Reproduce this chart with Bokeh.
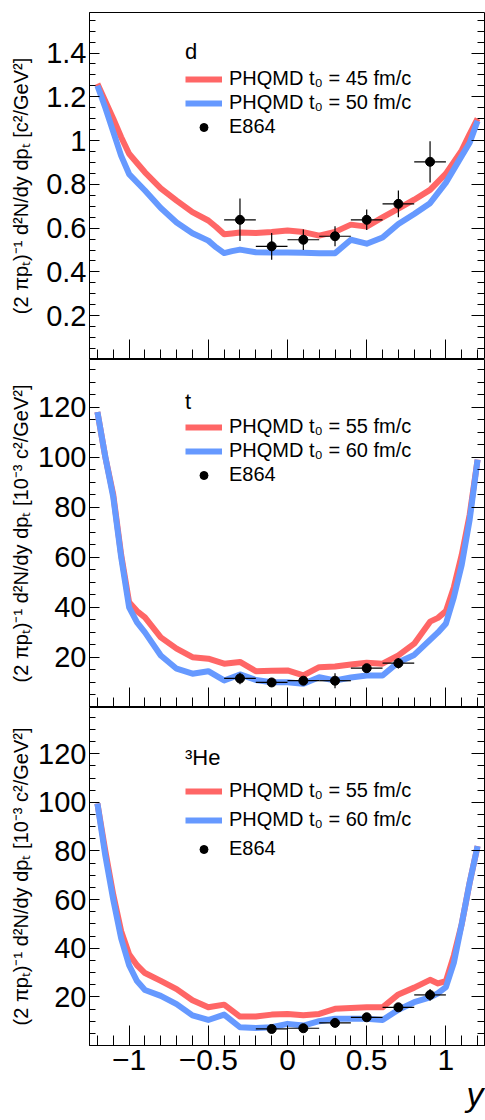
import numpy as np
from bokeh.plotting import figure
from bokeh.models import (Range1d, FixedTicker, LinearAxis, Legend, LegendItem,
                          Title, CustomJSTickFormatter)
from bokeh.layouts import column
from bokeh.embed import file_html
from bokeh.resources import INLINE

# ---------------- data ----------------
# deuterons
d_x = [-1.2, -1.15, -1.1, -1.05, -1.0, -0.9, -0.8, -0.7, -0.6, -0.5, -0.45, -0.4, -0.35, -0.3, -0.2, -0.1,
       0.0, 0.1, 0.2, 0.3, 0.4, 0.5, 0.6, 0.7, 0.8, 0.9, 1.0, 1.1, 1.15, 1.2]
d_red = [1.26, 1.18, 1.10, 1.015, 0.94, 0.855, 0.782, 0.726, 0.673, 0.635, 0.605, 0.572, 0.576, 0.580, 0.578, 0.582,
         0.589, 0.582, 0.566, 0.583, 0.616, 0.607, 0.649, 0.689, 0.730, 0.775, 0.849, 0.955, 1.03, 1.10]
d_blue = [1.25, 1.15, 1.04, 0.93, 0.847, 0.772, 0.692, 0.626, 0.577, 0.543, 0.512, 0.486, 0.495, 0.502, 0.490, 0.489,
          0.489, 0.488, 0.485, 0.485, 0.547, 0.529, 0.557, 0.619, 0.665, 0.714, 0.808, 0.93, 0.99, 1.09]
d_data_x = [-0.3, -0.1, 0.1, 0.3, 0.5, 0.7, 0.9]
d_data_y = [0.638, 0.517, 0.547, 0.563, 0.638, 0.711, 0.903]
d_data_err = [0.097, 0.061, 0.047, 0.046, 0.047, 0.061, 0.094]

# tritons
t_x = [-1.2, -1.15, -1.1, -1.05, -1.0, -0.95, -0.9, -0.8, -0.7, -0.6, -0.5, -0.4, -0.3, -0.2, -0.1,
       0.0, 0.1, 0.2, 0.3, 0.4, 0.5, 0.6, 0.7, 0.8, 0.9, 0.95, 1.0, 1.05, 1.1, 1.15, 1.2]
t_red = [118, 100, 85, 61, 42, 38.5, 36, 28, 23.5, 20.1, 19.5, 17.5, 18.2, 14.5, 14.7,
         14.8, 12.8, 16.1, 16.4, 17.2, 17.9, 17.5, 20.8, 25.5, 34.3, 35.8, 38.5, 48, 61, 77, 99]
t_blue = [118, 100, 84, 60, 40, 34, 30, 20.8, 15.5, 13.5, 14.5, 10.8, 13.2, 11.0, 10.1,
          10.1, 9.5, 12.1, 10.8, 12.0, 12.8, 12.8, 18.1, 21.0, 27.0, 30.0, 33.5, 44, 57, 75, 99]
t_data_x = [-0.3, -0.1, 0.1, 0.3, 0.5, 0.7]
t_data_y = [11.6, 10.0, 10.7, 10.7, 15.7, 17.7]
t_data_err = [2.3, 1.2, 1.5, 3.0, 1.7, 2.1]

# helium-3
he_x = [-1.2, -1.15, -1.1, -1.05, -1.0, -0.95, -0.9, -0.8, -0.7, -0.6, -0.5, -0.4, -0.3, -0.2, -0.1,
        0.0, 0.1, 0.2, 0.3, 0.4, 0.5, 0.6, 0.7, 0.8, 0.9, 0.95, 1.0, 1.05, 1.1, 1.15, 1.2]
he_red = [99.5, 80, 62, 47, 37.5, 33, 29.8, 26.6, 23.2, 18.6, 15.7, 16.8, 11.9, 11.9, 12.7,
          13.0, 12.4, 13.0, 15.1, 15.4, 15.7, 15.7, 21.0, 23.8, 27.0, 25.5, 26.5, 37, 50, 67, 82]
he_blue = [99.5, 78, 60, 44, 33, 26.5, 22.8, 20.4, 17.0, 12.4, 10.5, 12.7, 7.5, 7.2, 7.5,
           8.9, 8.2, 10.0, 11.0, 11.0, 11.0, 10.5, 14.7, 17.8, 19.8, 21.5, 24, 34, 50, 67, 82]
he_data_x = [-0.1, 0.1, 0.3, 0.5, 0.7, 0.9]
he_data_y = [6.8, 7.1, 9.3, 11.6, 15.7, 20.8]
he_data_err = [0.8, 0.8, 1.0, 1.0, 1.2, 2.4]

data_xerr = 0.1

x_tick_vals = [-1, -0.5, 0, 0.5, 1]
x_tick_labels = ["\u22121", "\u22120.5", "0", "0.5", "1"]
x_title = "y"
d_yticks = [0.2, 0.4, 0.6, 0.8, 1.0, 1.2, 1.4]
d_ytick_labels = ["0.2", "0.4", "0.6", "0.8", "1", "1.2", "1.4"]
th_yticks = [20, 40, 60, 80, 100, 120]

# ---------------- style ----------------
FONT = "Liberation Sans"
RED = "#ff6666"
BLUE = "#6699ff"
W = 485
X_START, X_END = -1.25, 1.25

blank = CustomJSTickFormatter(code="return ''")


def make_panel(height, top, bottom, y_end, yticks, yminor, ylabel, title,
               x, red, blue, lab_red, lab_blue, px, py, perr,
               leg_y, leg_spacing, title_standoff, last, label_standoff,
               ylabel_overrides=None):
    p = figure(width=W, height=height, x_range=Range1d(X_START, X_END), y_range=Range1d(0, y_end),
               output_backend="svg", toolbar_location=None,
               x_axis_location=None, y_axis_location=None,
               min_border_left=89, min_border_right=0,
               min_border_top=top, min_border_bottom=bottom)
    p.xgrid.visible = False
    p.ygrid.visible = False
    p.outline_line_color = "black"
    p.outline_line_width = 1
    p.background_fill_color = "white"
    p.border_fill_color = "white"

    # left axis
    ly = LinearAxis(ticker=FixedTicker(ticks=yticks, minor_ticks=yminor),
                    axis_label=ylabel)
    ly.major_tick_in = 10
    ly.major_tick_out = 0
    ly.minor_tick_in = 6
    ly.minor_tick_out = 0
    ly.axis_line_color = "black"
    ly.major_label_text_font = FONT
    ly.major_label_text_font_size = "29px"
    ly.major_label_text_color = "black"
    ly.major_label_standoff = 3
    ly.axis_label_text_font = FONT
    ly.axis_label_text_font_size = "20px"
    ly.axis_label_text_font_style = "normal"
    ly.axis_label_text_color = "black"
    ly.axis_label_standoff = label_standoff
    if ylabel_overrides:
        ly.major_label_overrides = ylabel_overrides
    p.add_layout(ly, "left")

    # right axis (ticks only)
    ry = LinearAxis(ticker=FixedTicker(ticks=yticks, minor_ticks=yminor), formatter=blank)
    ry.major_tick_in = 14
    ry.major_tick_out = 0
    ry.minor_tick_in = 8
    ry.minor_tick_out = 0
    ry.major_label_text_font_size = "0px"
    ry.major_label_standoff = 0
    ry.axis_line_color = "black"
    p.add_layout(ry, "right")

    # bottom axis
    xminor = [round(v, 2) for v in np.arange(-1.2, 1.21, 0.1)]
    bx = LinearAxis(ticker=FixedTicker(ticks=x_tick_vals, minor_ticks=xminor))
    bx.major_tick_in = 20
    bx.major_tick_out = 0
    bx.minor_tick_in = 10
    bx.minor_tick_out = 0
    bx.axis_line_color = "black"
    if last:
        bx.major_label_overrides = {v: s for v, s in zip(x_tick_vals, x_tick_labels)}
        bx.major_label_text_font = FONT
        bx.major_label_text_font_size = "30px"
        bx.major_label_text_color = "black"
        bx.major_label_standoff = 4
    else:
        bx.formatter = blank
        bx.major_label_text_font_size = "0px"
        bx.major_label_standoff = 0
    p.add_layout(bx, "below")

    # model curves
    r1 = p.line(x, red, line_color=RED, line_width=6, line_join="round")
    r2 = p.line(x, blue, line_color=BLUE, line_width=6, line_join="round")

    # data with error bars
    pxa = np.array(px, dtype=float)
    pya = np.array(py, dtype=float)
    pea = np.array(perr, dtype=float)
    p.segment(pxa - data_xerr, pya, pxa + data_xerr, pya, line_color="black", line_width=1.2)
    p.segment(pxa, pya - pea, pxa, pya + pea, line_color="black", line_width=1.2)
    sc = p.scatter(pxa, pya, size=9, color="black")

    leg = Legend(items=[LegendItem(label=lab_red, renderers=[r1]),
                        LegendItem(label=lab_blue, renderers=[r2]),
                        LegendItem(label="E864", renderers=[sc])],
                 location=(96, leg_y), title=title,
                 title_text_font=FONT, title_text_font_size="22px",
                 title_text_font_style="normal", title_text_color="black",
                 title_standoff=title_standoff,
                 label_text_font=FONT, label_text_font_size="20px", label_text_color="black",
                 glyph_width=37, glyph_height=20, label_height=20, label_standoff=7,
                 spacing=leg_spacing, padding=0, margin=0,
                 border_line_color=None, background_fill_alpha=0)
    p.add_layout(leg)
    return p


yminor_d = [round(v, 3) for v in np.arange(0.05, 1.58, 0.05)]
yminor_th = [int(v) for v in np.arange(5, 139, 5)]

label_d = "(2 \u03c0p\u209c)\u207b\u00b9 d\u00b2N/dy dp\u209c [c\u00b2/GeV\u00b2]"
label_th = "(2 \u03c0p\u209c)\u207b\u00b9 d\u00b2N/dy dp\u209c [10\u207b\u00b3 c\u00b2/GeV\u00b2]"

p1 = make_panel(359, 12, 0, 1.585, d_yticks, yminor_d, label_d, "d",
                d_x, d_red, d_blue, "PHQMD t\u2080 = 45 fm/c", "PHQMD t\u2080 = 50 fm/c",
                d_data_x, d_data_y, d_data_err, 221, 1, 2, False, 11,
                ylabel_overrides={v: s for v, s in zip(d_yticks, d_ytick_labels)})
p2 = make_panel(348, 0, 0, 139, th_yticks, yminor_th, label_th, "t",
                t_x, t_red, t_blue, "PHQMD t\u2080 = 55 fm/c", "PHQMD t\u2080 = 60 fm/c",
                t_data_x, t_data_y, t_data_err, 221, 1, 0, False, 3)
p3 = make_panel(413, 0, 75, 139, th_yticks, yminor_th, label_th, "\u00b3He",
                he_x, he_red, he_blue, "PHQMD t\u2080 = 55 fm/c", "PHQMD t\u2080 = 60 fm/c",
                he_data_x, he_data_y, he_data_err, 185, 6, 8, True, 3)
p3.add_layout(Title(text=x_title, align="right", text_font=FONT, text_font_size="34px",
                    text_font_style="italic", text_color="black", standoff=0, offset=2),
              "below")

layout = column(p1, p2, p3, spacing=0)
open("out.html", "w").write(file_html(layout, INLINE))
